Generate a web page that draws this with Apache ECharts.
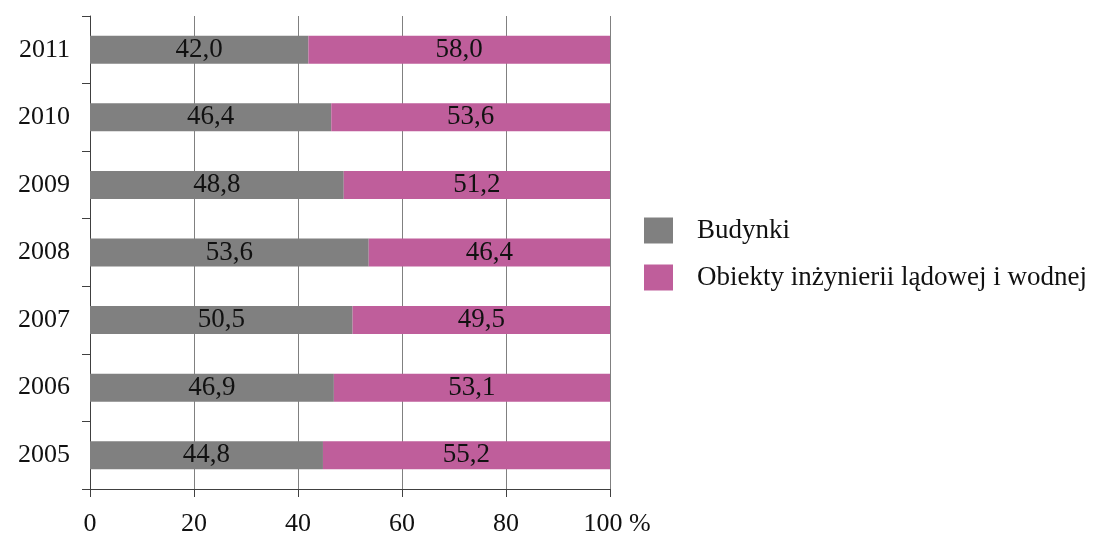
<!DOCTYPE html>
<html><head><meta charset="utf-8">
<script src="https://cdn.jsdelivr.net/npm/echarts@6/dist/echarts.min.js"></script>
<style>html,body{margin:0;padding:0;background:#fff}#c{width:1103px;height:537px}</style>
</head><body><div id="c"></div>
<script>
const years = ['2005','2006','2007','2008','2009','2010','2011'];
const budynki = [44.8, 46.9, 50.5, 53.6, 48.8, 46.4, 42.0];
const obiekty = [55.2, 53.1, 49.5, 46.4, 51.2, 53.6, 58.0];
const seriesNames = ['Budynki', 'Obiekty inżynierii lądowej i wodnej'];
const xTicks = [0, 20, 40, 60, 80, 100];

const FONT = '"Liberation Serif","Times New Roman",serif';
const fmt = v => v.toFixed(1).replace('.', ',');
const chart = echarts.init(document.getElementById('c'), null, {renderer: 'canvas'});
const labelCfg = {show: true, position: 'inside', color: '#111', fontFamily: FONT, fontSize: 27,
  formatter: p => fmt(p.value)};
chart.setOption({
  animation: false,
  textStyle: {fontFamily: FONT},
  grid: {left: 90, right: 493, top: 16, bottom: 47, containLabel: false},
  legend: {
    orient: 'vertical', left: 639, top: 212, itemWidth: 29, itemHeight: 26, itemGap: 20,
    icon: 'rect', textStyle: {fontFamily: FONT, fontSize: 27, color: '#111', padding: [0, 0, 0, 19]},
    data: seriesNames
  },
  xAxis: {
    type: 'value', min: xTicks[0], max: xTicks[xTicks.length - 1], interval: 20,
    axisLine: {show: true, lineStyle: {color: '#404040', width: 1}},
    axisTick: {show: true, length: 8, lineStyle: {color: '#404040'}},
    splitLine: {show: true, lineStyle: {color: '#808080', width: 1}},
    axisLabel: {margin: 22, color: '#111', fontFamily: FONT, fontSize: 26,
      formatter: v => v === 100 ? '{p|100 %}' : String(v),
      rich: {p: {fontFamily: FONT, fontSize: 26, color: '#111', padding: [0, 0, 0, 14]}}}
  },
  yAxis: {
    type: 'category', data: years,
    axisLine: {show: true, lineStyle: {color: '#404040', width: 1}},
    axisTick: {show: true, length: 8, lineStyle: {color: '#404040'}},
    axisLabel: {margin: 20, color: '#111', fontFamily: FONT, fontSize: 26}
  },
  series: [
    {name: seriesNames[0], type: 'bar', stack: 's', data: budynki, barWidth: 28,
     itemStyle: {color: '#808080'}, label: labelCfg},
    {name: seriesNames[1], type: 'bar', stack: 's', data: obiekty, barWidth: 28,
     itemStyle: {color: '#BF5E9B'}, label: labelCfg}
  ]
});
</script></body></html>
